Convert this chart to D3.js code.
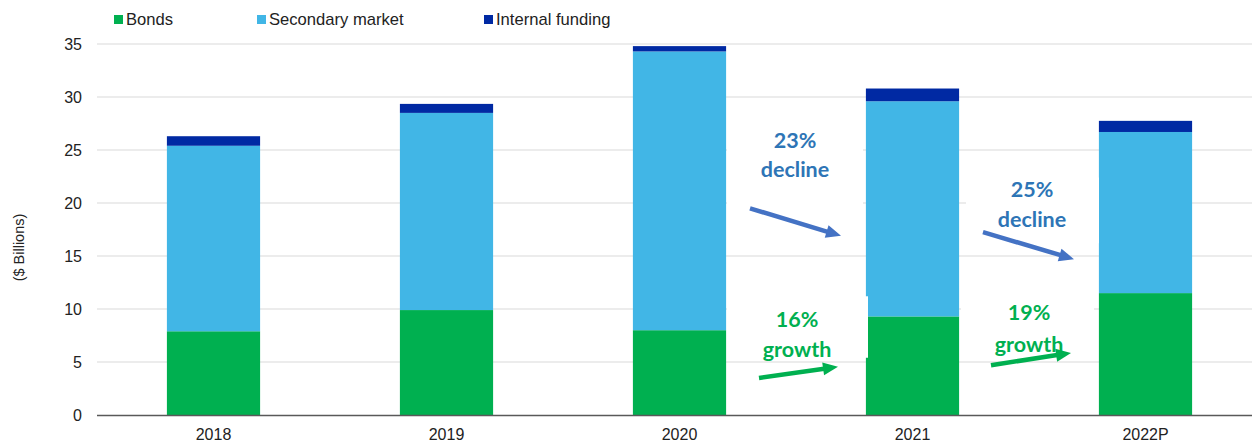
<!DOCTYPE html>
<html>
<head>
<meta charset="utf-8">
<script src="https://cdn.jsdelivr.net/npm/d3@7"></script>
<style>
    body { margin: 0; background: #fff; }
    svg { display: block; }
</style>
</head>
<body>
<svg id="chart" width="1252" height="444"></svg>
<script>
// categories + stacked series ($ billions)
const years = ["2018", "2019", "2020", "2021", "2022P"];
const bonds = [7.9, 9.9, 8.0, 9.3, 11.5];
const secondary = [17.5, 18.6, 26.3, 20.3, 15.2];
const internal = [0.9, 0.85, 0.5, 1.2, 1.05];
const yTicks = [0, 5, 10, 15, 20, 25, 30, 35];

const seriesNames = ["Bonds", "Secondary market", "Internal funding"];
const seriesColors = ["#00B050", "#41B6E6", "#0029A3"];

// annotations: placed between two bars, y in data units
const notes = [
    { gap: [2, 3], lines: ["23%", "decline"], dx: -1, ys: [25.2, 22.45], color: "#2E75B6",
      arrow: { color: "#4472C4", from: [-46, 19.5], to: [45, 16.9] }, box: [[-69, 67], [28.8, 16.3]] },
    { gap: [2, 3], lines: ["16%", "growth"], dx: 1, ys: [8.3, 5.47], color: "#00B050",
      arrow: { color: "#00B050", from: [-37, 3.5], to: [42, 4.55] }, box: [[-69, 72], [11.2, 5.4]] },
    { gap: [3, 4], lines: ["25%", "decline"], dx: 3, ys: [20.57, 17.74], color: "#2E75B6",
      arrow: { color: "#4472C4", from: [-46, 17.25], to: [45, 14.7] }, box: [[-63, 70], [22.4, 16.2]] },
    { gap: [3, 4], lines: ["19%", "growth"], dx: 0, ys: [8.96, 5.94], color: "#00B050",
      arrow: { color: "#00B050", from: [-38, 4.7], to: [42, 5.85] }, box: [[-68, 65], [10.6, 5.5]] }
];

const svg = d3.select("#chart");
const margin = { left: 97, right: 0, top: 44, bottom: 29 };
const W = +svg.attr("width"), H = +svg.attr("height");

const x = d3.scaleBand()
    .domain(years)
    .range([margin.left, margin.left + 1165])
    .paddingInner(0.6)
    .paddingOuter(0.3);

const y = d3.scaleLinear()
    .domain([0, 35])
    .range([H - margin.bottom, margin.top]);

// gridlines
svg.append("g")
    .selectAll("line")
    .data(yTicks.filter(d => d > 0))
    .enter().append("line")
    .attr("x1", margin.left)
    .attr("x2", W)
    .attr("y1", d => y(d))
    .attr("y2", d => y(d))
    .attr("stroke", "#D9D9D9")
    .attr("stroke-width", 1);

// y tick labels
const yAxis = svg.append("g")
    .attr("transform", `translate(${margin.left},0)`)
    .call(d3.axisLeft(y).tickValues(yTicks).tickSize(0).tickPadding(15));
yAxis.select(".domain").remove();
yAxis.selectAll("text")
    .attr("font-family", "Liberation Sans, Arial, sans-serif")
    .attr("font-size", 16)
    .attr("fill", "#222");

// y title
svg.append("text")
    .attr("transform", `translate(24,${y(15.8)}) rotate(-90)`)
    .attr("text-anchor", "middle")
    .attr("font-family", "Liberation Sans, Arial, sans-serif")
    .attr("font-size", 14.5)
    .attr("fill", "#222")
    .text("($ Billions)");

// stacked bars
const table = years.map((yr, i) => ({ year: yr, "Bonds": bonds[i], "Secondary market": secondary[i], "Internal funding": internal[i] }));
const stacked = d3.stack().keys(seriesNames)(table);

svg.append("g")
    .selectAll("g")
    .data(stacked)
    .enter().append("g")
    .attr("fill", (d, i) => seriesColors[i])
    .selectAll("rect")
    .data(d => d)
    .enter().append("rect")
    .attr("x", d => x(d.data.year))
    .attr("width", x.bandwidth())
    .attr("y", d => y(d[1]))
    .attr("height", d => y(d[0]) - y(d[1]));

// x axis
const xAxis = svg.append("g")
    .attr("transform", `translate(0,${y(0)})`)
    .call(d3.axisBottom(x).tickSize(0).tickPadding(14));
xAxis.select(".domain")
    .attr("d", `M${margin.left},0.5H${W}`)
    .attr("stroke", "#595959")
    .attr("stroke-width", 1.3);
xAxis.selectAll("text")
    .attr("font-family", "Liberation Sans, Arial, sans-serif")
    .attr("font-size", 16)
    .attr("fill", "#222");

// legend
const legendX = [114, 257, 484];
const legend = svg.append("g")
    .selectAll("g")
    .data(seriesNames)
    .enter().append("g")
    .attr("transform", (d, i) => `translate(${legendX[i]},15)`);
legend.append("rect")
    .attr("width", 9)
    .attr("height", 9)
    .attr("fill", (d, i) => seriesColors[i]);
legend.append("text")
    .attr("x", 12)
    .attr("y", 9.5)
    .attr("font-family", "Liberation Sans, Arial, sans-serif")
    .attr("font-size", 16.6)
    .attr("fill", "#222")
    .text(d => d);

// annotations
const gapMid = g => (x(years[g[0]]) + x.bandwidth() + x(years[g[1]])) / 2;

const ann = svg.append("g")
    .selectAll("g")
    .data(notes)
    .enter().append("g");

// white text boxes (they hide the gridlines behind them)
ann.append("rect")
    .attr("x", d => gapMid(d.gap) + d.box[0][0])
    .attr("width", d => d.box[0][1] - d.box[0][0])
    .attr("y", d => y(d.box[1][0]))
    .attr("height", d => y(d.box[1][1]) - y(d.box[1][0]))
    .attr("fill", "#fff");

ann.each(function (d) {
    const g = d3.select(this);
    const cx = gapMid(d.gap);
    d.lines.forEach((t, i) => {
        g.append("text")
            .attr("x", cx + d.dx)
            .attr("y", y(d.ys[i]))
            .attr("text-anchor", "middle")
            .attr("font-family", "Lato, 'Open Sans', sans-serif")
            .attr("font-weight", "bold")
            .attr("font-size", 21.5)
            .attr("fill", d.color)
            .text(t);
    });
    // arrow: thick shaft + triangle head
    const x1 = cx + d.arrow.from[0], y1 = y(d.arrow.from[1]);
    const x2 = cx + d.arrow.to[0], y2 = y(d.arrow.to[1]);
    const ang = Math.atan2(y2 - y1, x2 - x1);
    const headLen = 15, headW = 6.5;
    const bx = x2 - headLen * Math.cos(ang), by = y2 - headLen * Math.sin(ang);
    g.append("line")
        .attr("x1", x1).attr("y1", y1)
        .attr("x2", bx + Math.cos(ang)).attr("y2", by + Math.sin(ang))
        .attr("stroke", d.arrow.color)
        .attr("stroke-width", 4.5);
    const px = -Math.sin(ang) * headW, py = Math.cos(ang) * headW;
    g.append("path")
        .attr("d", `M${x2},${y2}L${bx + px},${by + py}L${bx - px},${by - py}Z`)
        .attr("fill", d.arrow.color);
});
</script>
</body>
</html>
